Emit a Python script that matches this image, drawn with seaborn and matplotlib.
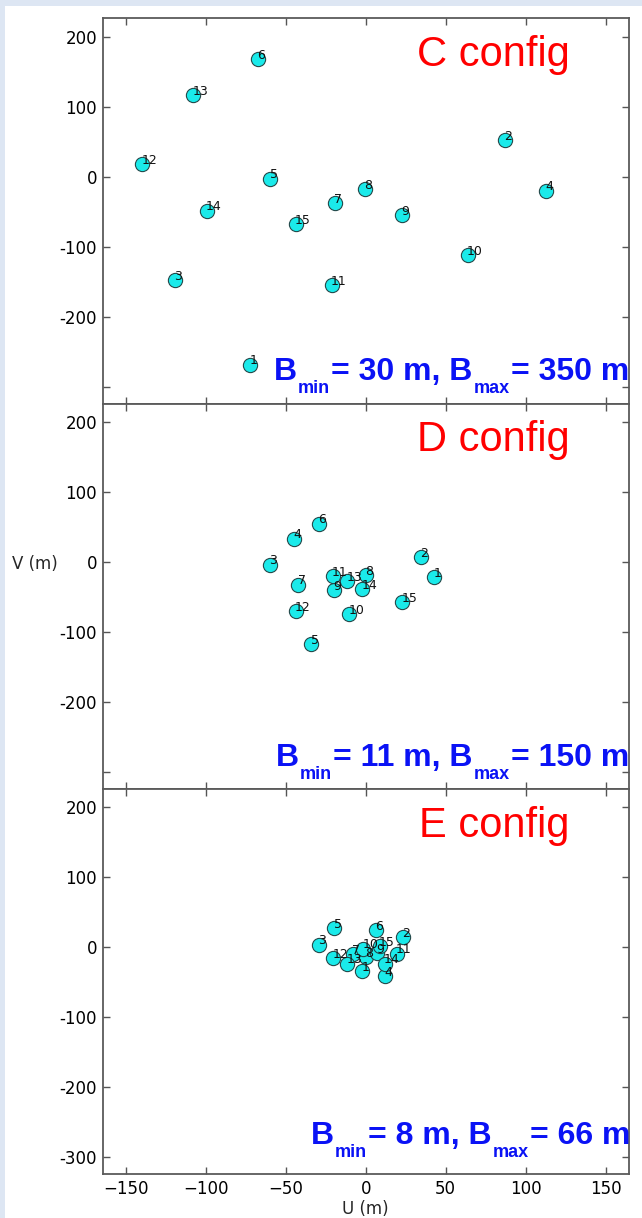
import matplotlib
matplotlib.use("Agg")
import matplotlib.pyplot as plt
import matplotlib.transforms as mtransforms
from matplotlib.patches import Rectangle
import seaborn as sns
import pandas as pd

# ---------------- data ----------------
antenna_ids = list(range(1, 16))

c_u = [-72.1, 87.3, -119.2, 112.9, -59.6, -67.1, -19.4, -0.2, 22.9, 63.8, -21.1, -139.6, -107.7, -99.4, -43.6]
c_v = [-268.3, 51.7, -148.3, -20.3, -3.1, 167.9, -38.3, -18.3, -55.4, -112.1, -155.0, 17.9, 116.0, -48.9, -67.9]

d_u = [42.7, 34.8, -59.6, -45.0, -34.0, -29.0, -42.1, 0.0, -19.6, -10.4, -20.6, -43.6, -11.5, -2.1, 22.7]
d_v = [-21.7, 6.9, -4.0, 33.1, -117.9, 54.6, -32.6, -19.3, -40.3, -74.6, -20.3, -70.7, -27.9, -38.9, -57.4]

e_u = [-2.1, 23.3, -29.4, 12.3, -19.6, 6.3, -7.8, 0.2, 6.9, -1.5, 19.4, -20.4, -11.7, 11.9, 8.9]
e_v = [-34.6, 14.4, 3.6, -41.3, 27.3, 24.4, -10.3, -14.1, -8.4, -2.1, -9.3, -16.0, -23.6, -23.6, 1.6]

config_names = ["C config", "D config", "E config"]
b_min = ["30", "11", "8"]
b_max = ["350", "150", "66"]

x_ticks = [-150, -100, -50, 0, 50, 100, 150]
y_ticks = [-300, -200, -100, 0, 100, 200]

# ---------------- style ----------------
sns.set_style("ticks")
plt.rcParams["font.family"] = ["DejaVu Sans"]

W, H = 642, 1218
fig = plt.figure(figsize=(W / 100, H / 100), dpi=100)
fig.patch.set_facecolor("#dde6f3")
fig.add_artist(Rectangle((4.5 / W, 0), 1, (H - 5.5) / H, transform=fig.transFigure,
                         facecolor="white", edgecolor="none", zorder=-5))

gs = fig.add_gridspec(3, 1, left=102.7 / W, right=628.7 / W,
                      bottom=(H - 1174) / H, top=(H - 18.3) / H, hspace=0)
axes = [fig.add_subplot(gs[i]) for i in range(3)]

datasets = [(c_u, c_v), (d_u, d_v), (e_u, e_v)]

for i, (ax, (u, v)) in enumerate(zip(axes, datasets)):
    df = pd.DataFrame({"U": u, "V": v, "ant": antenna_ids})
    sns.scatterplot(data=df, x="U", y="V", ax=ax, s=105, color="#1aeaea",
                    edgecolor="#24494a", linewidth=0.8, zorder=3, legend=False)
    for uu, vv, aid in zip(df["U"], df["V"], df["ant"]):
        ax.text(uu - 0.5, vv + 0.5, str(aid), fontsize=9, ha="left", va="baseline",
                color="#111111", zorder=4)

    ax.set_xlim(-164.4, 164.4)
    ax.set_ylim(-324, 226)
    ax.set_xticks(x_ticks)
    ax.set_yticks(y_ticks)
    labels = ["-300" if (t == -300 and i == 2) else ("" if t == -300 else str(t)) for t in y_ticks]
    ax.set_yticklabels(labels)
    ax.tick_params(direction="in", top=True, right=True, length=5, width=1,
                   color="#555555", labelsize=12, pad=4, labelcolor="black")
    for sp in ax.spines.values():
        sp.set_visible(True)
        sp.set_color("#5a5a5a")
        sp.set_linewidth(1.3)
    ax.set_xlabel("")
    ax.set_ylabel("")
    if i < 2:
        ax.tick_params(labelbottom=False)

    ax.text(0.888, 0.876, config_names[i], transform=ax.transAxes, ha="right",
            va="baseline", color="red", fontsize=30, family="Liberation Sans")

axes[2].set_xlabel("U (m)", fontsize=12, labelpad=2)
axes[1].set_ylabel("V (m)", rotation=0, fontsize=12, ha="center", va="center")
axes[1].yaxis.set_label_coords(-0.129, 0.584)

# ---------------- baseline annotations with subscripts ----------------
fig.canvas.draw()
renderer = fig.canvas.get_renderer()


def baseline_text(ax, x_right, y_base, bmin, bmax):
    big, small, drop = 23, 13, 13
    parts = [("B", big, 0), ("min", small, -drop), ("= " + bmin + " m, B", big, 0),
             ("max", small, -drop), ("= " + bmax + " m", big, 0)]
    texts = []
    for s, size, dy in parts:
        t = ax.text(0, 0, s, fontsize=size, fontweight="bold", color="#0a12f5",
                    family="Liberation Sans", ha="left", va="baseline",
                    transform=mtransforms.IdentityTransform(), zorder=6)
        texts.append(t)
    widths = [t.get_window_extent(renderer).width for t in texts]
    x0, y0 = ax.transAxes.transform((x_right, y_base))
    cur = x0 - sum(widths) - 2
    for t, (s, size, dy), w in zip(texts, parts, widths):
        t.set_position((cur, y0 + dy))
        cur += w + 1


baseline_text(axes[0], 0.997, 0.060, b_min[0], b_max[0])
baseline_text(axes[1], 0.997, 0.060, b_min[1], b_max[1])
baseline_text(axes[2], 0.999, 0.078, b_min[2], b_max[2])

fig.savefig("out.png", dpi=100, facecolor=fig.get_facecolor())
